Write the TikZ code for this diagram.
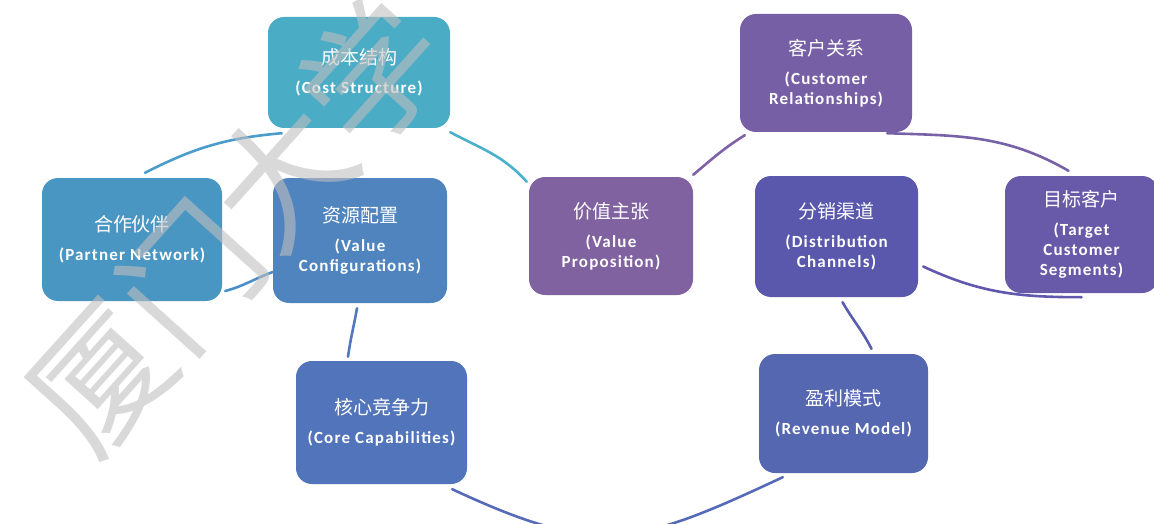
\documentclass[tikz,border=0pt]{standalone}
\usepackage{fontspec}
\newfontfamily\enfont[LetterSpace=7]{Carlito}
\newfontfamily\cnfont{Noto Sans CJK SC}
\newcommand\zh[1]{{\cnfont\mdseries\fontsize{19}{20}\selectfont #1}}
\definecolor{cCost}{HTML}{4BACC6}
\definecolor{cPart}{HTML}{4A96C3}
\definecolor{cVC}{HTML}{4F84BE}
\definecolor{cCore}{HTML}{5274BA}
\definecolor{cVP}{HTML}{8062A0}
\definecolor{cCR}{HTML}{765FA5}
\definecolor{cDC}{HTML}{5958AC}
\definecolor{cTgt}{HTML}{685AA8}
\definecolor{cRM}{HTML}{5667B2}
\definecolor{lPC}{HTML}{4A9CCB}
\definecolor{lCV}{HTML}{4BB0CC}
\definecolor{lVC}{HTML}{7E62A8}
\definecolor{lCT}{HTML}{7762A8}
\definecolor{lDT}{HTML}{6058AE}
\definecolor{lDR}{HTML}{5A5DB0}
\definecolor{lRC}{HTML}{566AB8}
\definecolor{lCF}{HTML}{5279C0}
\definecolor{lFP}{HTML}{4C8FC8}
\definecolor{wm}{HTML}{BFBFBF}
\begin{document}
\begin{tikzpicture}[x=1pt,y=1pt,
  box/.style={rounded corners=16pt, text=white, align=center, inner sep=0pt,
    font=\enfont\bfseries\fontsize{17}{20}\selectfont},
  link/.style={line width=2.6pt, line cap=round},
  watermark/.style={text=wm, opacity=0.6, font=\cnfont\mdseries\fontsize{136}{136}\selectfont}
]
\useasboundingbox (0,0) rectangle (1154,-524);

% boxes
\node[box, fill=cCost, minimum width=182pt, minimum height=111pt] (cost) at (359,-72.5)
  {\zh{成本结构}\\[9pt](Cost Structure)};
\node[box, fill=cPart, minimum width=180pt, minimum height=123pt] (partner) at (132,-239.5)
  {\zh{合作伙伴}\\[9pt](Partner Network)};
\node[box, fill=cVC, minimum width=174pt, minimum height=125pt] (vc) at (360,-240.5)
  {\zh{资源配置}\\[9pt](Value\\Configurations)};
\node[box, fill=cCore, minimum width=171pt, minimum height=123pt] (core) at (381.5,-422.5)
  {\zh{核心竞争力}\\[9pt](Core Capabilities)};
\node[box, fill=cVP, minimum width=164pt, minimum height=118pt] (vp) at (611,-236)
  {\zh{价值主张}\\[9pt](Value\\Proposition)};
\node[box, fill=cCR, minimum width=172pt, minimum height=118pt] (cr) at (826,-73)
  {\zh{客户关系}\\[9pt](Customer\\Relationships)};
\node[box, fill=cDC, minimum width=163pt, minimum height=121pt] (dc) at (836.5,-236.5)
  {\zh{分销渠道}\\[9pt](Distribution\\Channels)};
\node[box, fill=cTgt, minimum width=153pt, minimum height=117pt] (tgt) at (1081.5,-234.5)
  {\zh{目标客户}\\[9pt](Target\\Customer\\Segments)};
\node[box, fill=cRM, minimum width=169pt, minimum height=119pt] (rm) at (843.5,-413.5)
  {\zh{盈利模式}\\[9pt](Revenue Model)};

% connectors
\draw[link, lPC] ([xshift=13pt,yshift=5pt]partner.north) to[out=27,in=185] ([xshift=14pt,yshift=-5pt]cost.south west);
\draw[link, lCV] ([yshift=-4pt]cost.south east) to[out=-28,in=132] ([xshift=-2pt,yshift=-5pt]vp.north west);
\draw[link, lVC] ([yshift=2pt]vp.north east) to[out=40,in=212] ([xshift=5pt,yshift=-3pt]cr.south west);
\draw[link, lCT] ([xshift=-25pt,yshift=-1pt]cr.south east) to[out=-2,in=150] ([xshift=-13pt,yshift=5pt]tgt.north);
\draw[link, lDT] ([xshift=5pt,yshift=-30pt]dc.east) to[out=-25,in=180] ([yshift=-4pt]tgt.south);
\draw[link, lDR] ([xshift=6pt,yshift=-5pt]dc.south) to[out=-60,in=117] ([xshift=28pt,yshift=5pt]rm.north);
\draw[link, lRC] ([xshift=24pt,yshift=-4pt]rm.south west) to[out=-155,in=-25,looseness=1.25] ([xshift=-15pt,yshift=-5pt]core.south east);
\draw[link, lCF] ([xshift=-33.5pt,yshift=4pt]core.north) to[out=82,in=-100] ([xshift=-3pt,yshift=-5pt]vc.south);
\draw[link, lFP] ([yshift=-31.5pt]vc.west) to[out=-160,in=15] ([xshift=3pt,yshift=-51.5pt]partner.east);

% watermark
\node[watermark, rotate=48] (wmark) at (236,-225) {厦门大学};
\end{tikzpicture}
\end{document}
